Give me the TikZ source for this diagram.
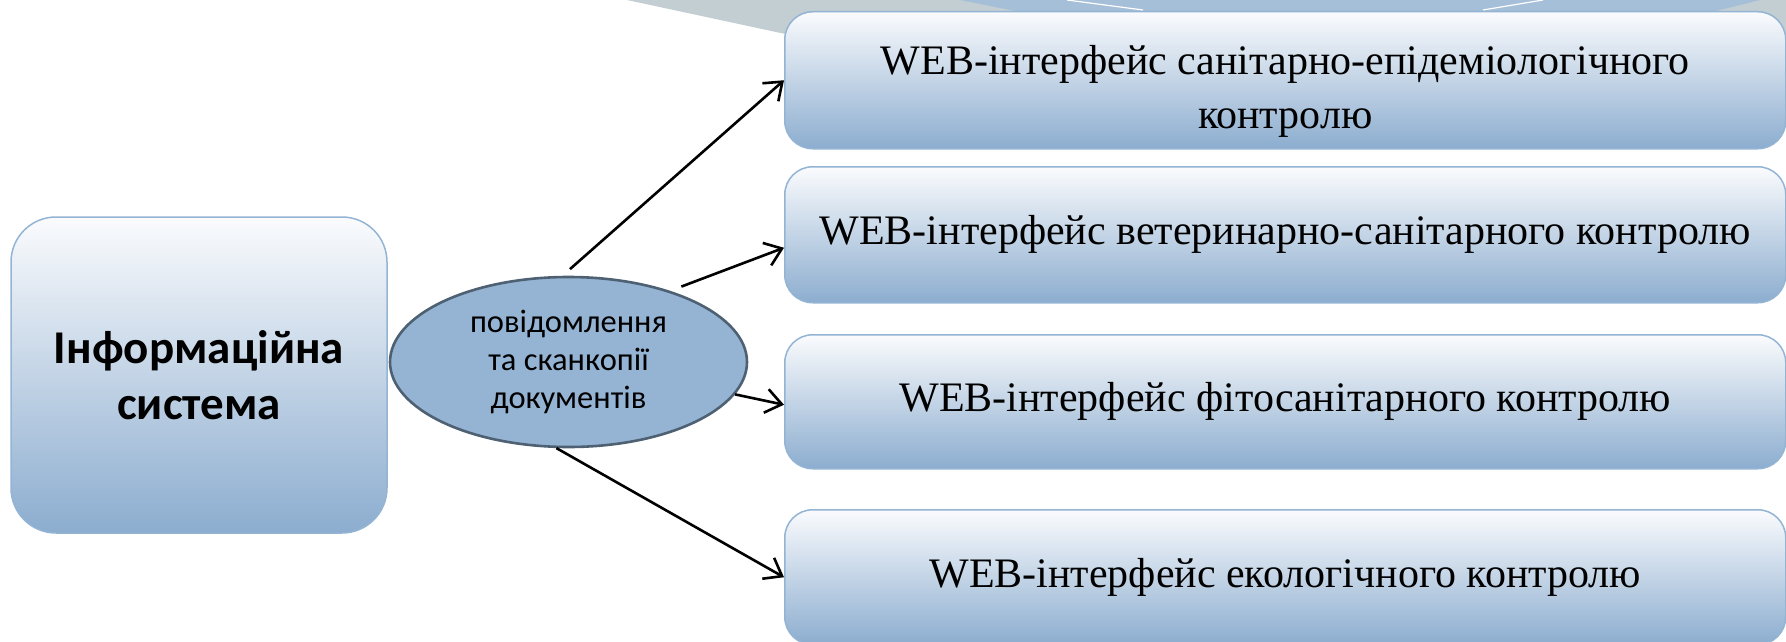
\documentclass[tikz,border=0pt]{standalone}
\usepackage{fontspec}
\setmainfont{Liberation Serif}
\newfontfamily\carlito{Carlito}
\usetikzlibrary{shapes.geometric,arrows.meta}
\definecolor{gtop}{HTML}{FAFBFD}
\definecolor{gbot}{HTML}{8CADCF}
\definecolor{boxline}{HTML}{94B4D4}
\definecolor{ellfill}{HTML}{95B3D3}
\definecolor{elldraw}{HTML}{4D6173}
\definecolor{bggrey}{HTML}{C3CED2}
\definecolor{bgblue}{HTML}{A4BFD7}
\begin{document}
\begin{tikzpicture}[x=1pt,y=-1pt,
  wbox/.style={draw=boxline, line width=1.5pt, rounded corners=28pt,
    top color=gtop, bottom color=gbot, minimum width=1001pt,
    anchor=north west, inner sep=0pt, align=center,
    font=\fontsize{42}{49}\selectfont},
  sysbox/.style={draw=boxline, line width=1.5pt, rounded corners=45pt,
    top color=gtop, bottom color=gbot, minimum width=376pt, minimum height=316pt,
    inner sep=0pt, align=center,
    font=\carlito\bfseries\fontsize{47}{56}\selectfont},
  msg/.style={ellipse, draw=elldraw, line width=2.6pt, fill=ellfill,
    minimum width=357pt, minimum height=170pt, inner sep=0pt, align=center,
    font=\carlito\fontsize{32.5}{38}\selectfont},
  arr/.style={line width=2.6pt, -{Straight Barb[length=16pt,width=24pt]}}]
\useasboundingbox (0,0) rectangle (1786,642);
\clip (0,0) rectangle (1786,642);
% background banner
\fill[bggrey] (627,0) -- (790,35) -- (1786,35) -- (1786,0) -- cycle;
\fill[bgblue] (960,0) -- (1135,35) -- (1620,35) -- (1760,0) -- cycle;
\draw[white, line width=1.2pt] (1067,0) -- (1143,10);
\draw[white, line width=1.2pt] (1483,10) -- (1543,0);
% nodes
\node[sysbox] (sys) at (199,375) {Інформаційна\\система};
\node[msg] (ell) at (568.5,362) {повідомлення\\та сканкопії\\документів};
\node[wbox, minimum height=137pt, font=\fontsize{42}{54}\selectfont] (b1) at (784,11) {\rule{0pt}{52pt}WEB-інтерфейс санітарно-епідеміологічного\\контролю};
\node[wbox, minimum height=136pt] (b2) at (784,166) {WEB-інтерфейс ветеринарно-санітарного контролю};
\node[wbox, minimum height=134pt] (b3) at (784,334) {WEB-інтерфейс фітосанітарного контролю};
\node[wbox, minimum height=135pt] (b4) at (784,509) {WEB-інтерфейс екологічного контролю};
% connectors
\draw[arr, shorten <=10pt] (ell.94) -- (b1.west);
\draw[arr, shorten <=12pt] (ell.35) -- ([yshift=-13pt]b2.west);
\draw[arr] (ell.-11) -- ([yshift=-3pt]b3.west);
\draw[arr] (ell.-98) -- (b4.west);
\end{tikzpicture}
\end{document}
